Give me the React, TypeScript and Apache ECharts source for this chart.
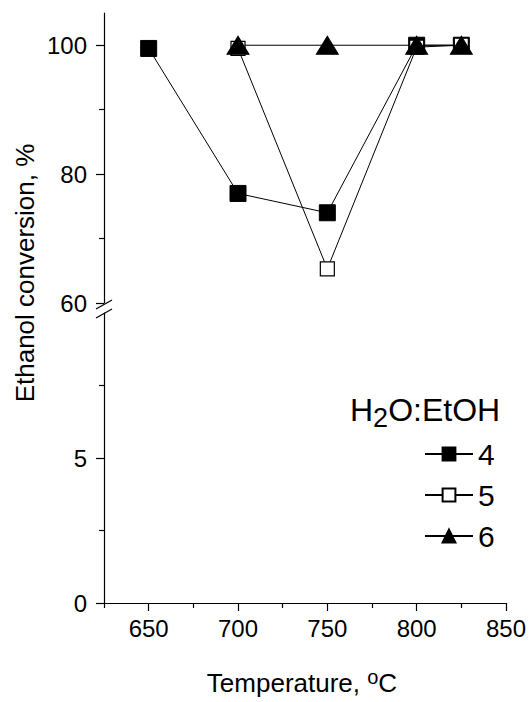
import React, { useEffect, useRef } from "react";
import * as echarts from "echarts";

const temps4 = [650, 700, 750, 800, 825];
const conv4 = [99.5, 77, 74, 100, 100];
const temps5 = [700, 750, 800, 825];
const conv5 = [99.5, 65.3, 99.7, 100];
const temps6 = [700, 750, 800, 825];
const conv6 = [100, 100, 100, 100];

const xMajorTicks = [650, 700, 750, 800, 850];
const xMinorTicks = [625, 675, 725, 775, 825];
const upperMajorTicks = [60, 80, 100];
const upperMinorTicks = [70, 90];
const lowerMajorTicks = [0, 5];
const lowerMinorTicks = [2.5, 7.5];

const FONT = "'Liberation Sans', Arial, sans-serif";

const pair = (xs: number[], ys: number[]) => xs.map((x, i) => [x, ys[i]]);

export default function App() {
  const ref = useRef<HTMLDivElement>(null);
  useEffect(() => {
    document.body.style.margin = "0";
    const chart = echarts.init(ref.current!, null, { renderer: "svg" });
    const axisLine = { show: true, lineStyle: { color: "#000", width: 1.2 } };
    const L = 104;
    const R = 26;
    const option: any = {
      animation: false,
      backgroundColor: "#fff",
      textStyle: { fontFamily: FONT },
      grid: [
        { left: L, right: R, top: 13, height: 290 },
        { left: L, right: R, top: 313, height: 290 },
      ],
      xAxis: [
        { gridIndex: 0, type: "value", min: 625, max: 850, show: false },
        {
          gridIndex: 1, type: "value", min: 625, max: 850, interval: 25, position: "bottom",
          axisLine: { ...axisLine, onZero: false },
          axisTick: { show: true, length: 8, customValues: xMajorTicks, lineStyle: { color: "#000", width: 1.2 } },
          axisLabel: { customValues: xMajorTicks, color: "#000", fontSize: 24, margin: 13, fontFamily: FONT },
          splitLine: { show: false },
        },
        {
          gridIndex: 1, type: "value", min: 625, max: 850, interval: 25, position: "bottom",
          axisLine: { show: false, onZero: false },
          axisTick: { show: true, length: 5, customValues: xMinorTicks, lineStyle: { color: "#000", width: 1.2 } },
          axisLabel: { show: false },
          splitLine: { show: false },
        },
      ],
      yAxis: [
        {
          gridIndex: 0, type: "value", min: 60, max: 105, interval: 20, position: "left",
          axisLine: { ...axisLine, onZero: false },
          axisTick: { show: true, length: 8, customValues: upperMajorTicks, lineStyle: { color: "#000", width: 1.2 } },
          axisLabel: { customValues: upperMajorTicks, color: "#000", fontSize: 24, margin: 17, fontFamily: FONT },
          splitLine: { show: false },
        },
        {
          gridIndex: 0, type: "value", min: 60, max: 105, interval: 20, position: "left",
          axisLine: { show: false, onZero: false },
          axisTick: { show: true, length: 5, customValues: upperMinorTicks, lineStyle: { color: "#000", width: 1.2 } },
          axisLabel: { show: false },
          splitLine: { show: false },
        },
        {
          gridIndex: 1, type: "value", min: 0, max: 10, interval: 5, position: "left",
          axisLine: { ...axisLine, onZero: false },
          axisTick: { show: true, length: 8, customValues: lowerMajorTicks, lineStyle: { color: "#000", width: 1.2 } },
          axisLabel: { customValues: lowerMajorTicks, color: "#000", fontSize: 24, margin: 17, fontFamily: FONT },
          splitLine: { show: false },
        },
        {
          gridIndex: 1, type: "value", min: 0, max: 10, interval: 5, position: "left",
          axisLine: { show: false, onZero: false },
          axisTick: { show: true, length: 5, customValues: lowerMinorTicks, lineStyle: { color: "#000", width: 1.2 } },
          axisLabel: { show: false },
          splitLine: { show: false },
        },
      ],
      legend: {
        orient: "vertical",
        left: 419,
        top: 434,
        itemWidth: 48,
        itemHeight: 16,
        itemGap: 11,
        textStyle: { fontSize: 30, color: "#000", fontFamily: FONT, lineHeight: 30 },
        data: ["4", "5", "6"],
      },
      series: [
        {
          name: "4", type: "line", xAxisIndex: 0, yAxisIndex: 0,
          data: pair(temps4, conv4),
          symbol: "rect", symbolSize: 16,
          lineStyle: { color: "#000", width: 1 },
          itemStyle: { color: "#000", borderColor: "#000", borderWidth: 1 },
        },
        {
          name: "5", type: "line", xAxisIndex: 0, yAxisIndex: 0,
          data: pair(temps5, conv5),
          symbol: "rect", symbolSize: 14,
          lineStyle: { color: "#000", width: 1 },
          itemStyle: { color: "#fff", borderColor: "#000", borderWidth: 1.2 },
        },
        {
          name: "6", type: "line", xAxisIndex: 0, yAxisIndex: 0,
          data: pair(temps6, conv6),
          symbol: "triangle", symbolSize: [22, 18],
          lineStyle: { color: "#000", width: 1 },
          itemStyle: { color: "#000", borderColor: "#000", borderWidth: 1 },
        },
      ],
      graphic: [
        { type: "line", shape: { x1: 96, y1: 309, x2: 112, y2: 300 }, style: { stroke: "#000", lineWidth: 1.2 } },
        { type: "line", shape: { x1: 96, y1: 318, x2: 112, y2: 309 }, style: { stroke: "#000", lineWidth: 1.2 } },
        {
          type: "text", x: 25, y: 273, rotation: Math.PI / 2,
          style: { text: "Ethanol conversion, %", fontSize: 26, fontFamily: FONT, fill: "#000", align: "center", verticalAlign: "middle" },
        },
        {
          type: "text", x: 302, y: 683,
          style: {
            text: "Temperature, {sup|o}C", fontSize: 26, fontFamily: FONT, fill: "#000", align: "center", verticalAlign: "middle",
            rich: { sup: { fontSize: 20, fontFamily: FONT, fill: "#000", padding: [0, 0, 12, 0] } },
          },
        },
        {
          type: "text", x: 350, y: 410,
          style: {
            text: "H{sub|2}O:EtOH", fontSize: 32, fontFamily: FONT, fill: "#000", align: "left", verticalAlign: "middle",
            rich: { sub: { fontSize: 27, fontFamily: FONT, fill: "#000", padding: [15, 0, 0, 0] } },
          },
        },
      ],
    };
    chart.setOption(option);
    return () => chart.dispose();
  }, []);
  return <div ref={ref} style={{ width: 532, height: 702 }} />;
}
